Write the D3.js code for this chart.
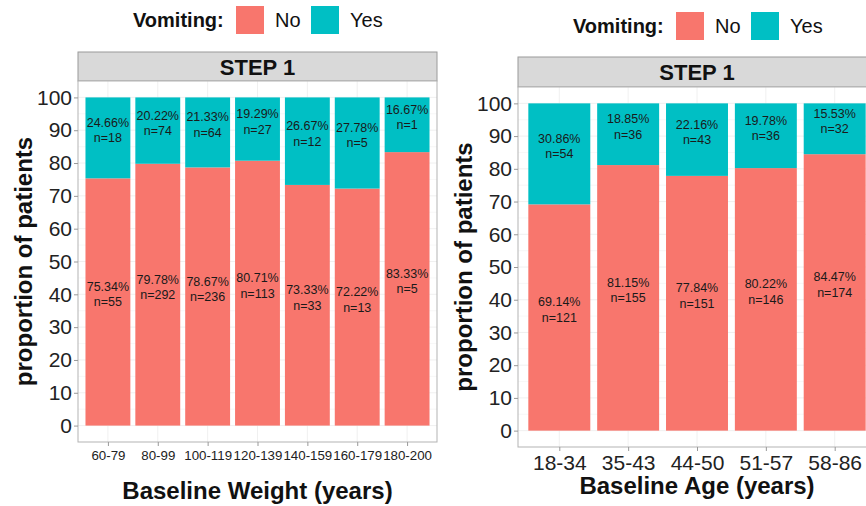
<!DOCTYPE html>
<html>
<head>
<meta charset="utf-8">
<script src="https://cdn.jsdelivr.net/npm/d3@7"></script>
<style>
  html, body { margin: 0; padding: 0; background: #fff; }
  svg { display: block; font-family: "Liberation Sans", Arial, sans-serif; }
</style>
</head>
<body>
<svg id="chart" width="866" height="506"></svg>
<script>
// Vomiting proportions by baseline weight band (STEP 1)
const weightCats   = ["60-79", "80-99", "100-119", "120-139", "140-159", "160-179", "180-200"];
const weightNoPct  = [75.34, 79.78, 78.67, 80.71, 73.33, 72.22, 83.33];
const weightYesPct = [24.66, 20.22, 21.33, 19.29, 26.67, 27.78, 16.67];
const weightNoN    = [55, 292, 236, 113, 33, 13, 5];
const weightYesN   = [18, 74, 64, 27, 12, 5, 1];

// Vomiting proportions by baseline age band (STEP 1)
const ageCats   = ["18-34", "35-43", "44-50", "51-57", "58-86"];
const ageNoPct  = [69.14, 81.15, 77.84, 80.22, 84.47];
const ageYesPct = [30.86, 18.85, 22.16, 19.78, 15.53];
const ageNoN    = [121, 155, 151, 146, 174];
const ageYesN   = [54, 36, 43, 36, 32];

const yTicks = [0, 10, 20, 30, 40, 50, 60, 70, 80, 90, 100];
const groups = ["No", "Yes"];
const groupColors = ["#F8766D", "#00BFC4"];

const svg = d3.select("#chart");

function drawPanel(opt) {
  const g = svg.append("g");
  const color = d3.scaleOrdinal().domain(groups).range(groupColors);

  // discrete x: bar spacing = step, bar width = 0.9*step, 0.6*step expansion each side
  const n = opt.cats.length;
  const step = (opt.right - opt.left) / (n - 1 + 1.2);
  const center = d3.scalePoint().domain(opt.cats)
    .range([opt.left + 0.6 * step, opt.right - 0.6 * step]);
  const bw = 0.9 * step;

  const y = d3.scaleLinear().domain([-5, 105]).range([opt.bottom, opt.top]);

  // legend
  const lg = g.append("g");
  lg.append("text").attr("x", opt.legX).attr("y", opt.legY + 7)
    .attr("font-size", 20).attr("font-weight", "bold").attr("fill", "#111")
    .text("Vomiting:");
  groups.forEach((k, i) => {
    const sx = opt.legX + 103 + i * 75;
    lg.append("rect").attr("x", sx).attr("y", opt.legY - 14)
      .attr("width", 28).attr("height", 28).attr("fill", color(k));
    lg.append("text").attr("x", sx + 39).attr("y", opt.legY + 7)
      .attr("font-size", 20).attr("fill", "#111").text(k);
  });

  // strip
  g.append("rect").attr("x", opt.left).attr("y", opt.stripTop)
    .attr("width", opt.right - opt.left).attr("height", opt.top - opt.stripTop)
    .attr("fill", "#d9d9d9").attr("stroke", "#9a9a9a").attr("stroke-width", 1);
  g.append("text").attr("x", (opt.left + opt.right) / 2)
    .attr("y", (opt.stripTop + opt.top) / 2 + 8)
    .attr("text-anchor", "middle").attr("font-size", 22).attr("font-weight", "bold")
    .attr("fill", "#111").text("STEP 1");

  // panel background and grid
  g.append("rect").attr("x", opt.left).attr("y", opt.top)
    .attr("width", opt.right - opt.left).attr("height", opt.bottom - opt.top)
    .attr("fill", "#fff");
  const grid = g.append("g").attr("stroke", "#ececec");
  d3.range(0, 101, 5).forEach(v => {
    grid.append("line").attr("x1", opt.left).attr("x2", opt.right)
      .attr("y1", y(v)).attr("y2", y(v))
      .attr("stroke-width", v % 10 === 0 ? 0.8 : 0.4);
  });
  opt.cats.forEach(c => {
    grid.append("line").attr("x1", center(c)).attr("x2", center(c))
      .attr("y1", opt.top).attr("y2", opt.bottom).attr("stroke-width", 0.8);
  });

  // stacked bars with percentage / count labels
  opt.cats.forEach((c, i) => {
    const no = opt.noPct[i], yes = opt.yesPct[i];
    const cx = center(c);
    g.append("rect").attr("x", cx - bw / 2).attr("width", bw)
      .attr("y", y(no)).attr("height", y(0) - y(no)).attr("fill", color("No"));
    g.append("rect").attr("x", cx - bw / 2).attr("width", bw)
      .attr("y", y(no + yes)).attr("height", y(no) - y(no + yes)).attr("fill", color("Yes"));

    const segs = [
      { mid: no / 2, pct: no, n: opt.noN[i] },
      { mid: no + yes / 2, pct: yes, n: opt.yesN[i] }
    ];
    segs.forEach(s => {
      const cy = y(s.mid);
      const t = g.append("text").attr("text-anchor", "middle")
        .attr("font-size", 12.5).attr("fill", "#1a1a1a");
      t.append("tspan").attr("x", cx).attr("y", cy - 11).text(s.pct.toFixed(2) + "%");
      t.append("tspan").attr("x", cx).attr("y", cy + 4.5).text("n=" + s.n);
    });
  });

  // panel border
  g.append("rect").attr("x", opt.left).attr("y", opt.top)
    .attr("width", opt.right - opt.left).attr("height", opt.bottom - opt.top)
    .attr("fill", "none").attr("stroke", "#b3b3b3").attr("stroke-width", 1);

  // y axis
  const yAxis = d3.axisLeft(y).tickValues(yTicks).tickSize(4).tickPadding(2);
  const ya = g.append("g").attr("transform", `translate(${opt.left},0)`).call(yAxis);
  ya.select(".domain").remove();
  ya.selectAll(".tick line").attr("stroke", "#999");
  ya.selectAll(".tick text").attr("font-size", 21).attr("fill", "#222")
    .attr("font-family", "Liberation Sans, Arial, sans-serif");

  // x axis
  const xAxis = d3.axisBottom(center).tickSize(4).tickPadding(opt.xTickPad);
  const xa = g.append("g").attr("transform", `translate(0,${opt.bottom})`).call(xAxis);
  xa.select(".domain").remove();
  xa.selectAll(".tick line").attr("stroke", "#999");
  xa.selectAll(".tick text").attr("font-size", opt.xTickSize).attr("fill", "#222")
    .attr("font-family", "Liberation Sans, Arial, sans-serif");

  // axis titles
  g.append("text").attr("x", (opt.left + opt.right) / 2).attr("y", opt.xTitleY)
    .attr("text-anchor", "middle").attr("font-size", 24).attr("font-weight", "bold")
    .attr("fill", "#111").text(opt.xTitle);
  g.append("text")
    .attr("transform", `translate(${opt.yTitleX},${(opt.top + opt.bottom) / 2}) rotate(-90)`)
    .attr("text-anchor", "middle").attr("font-size", 24).attr("font-weight", "bold")
    .attr("fill", "#111").text("proportion of patients");
}

drawPanel({
  cats: weightCats, noPct: weightNoPct, yesPct: weightYesPct, noN: weightNoN, yesN: weightYesN,
  left: 78, right: 437, top: 81, bottom: 442, stripTop: 52,
  legX: 133, legY: 20,
  xTickSize: 13.3, xTickPad: 5, xTitleY: 499, xTitle: "Baseline Weight (years)",
  yTitleX: 32
});

drawPanel({
  cats: ageCats, noPct: ageNoPct, yesPct: ageYesPct, noN: ageNoN, yesN: ageYesN,
  left: 518, right: 876, top: 87, bottom: 447, stripTop: 57,
  legX: 573, legY: 26,
  xTickSize: 21, xTickPad: 4, xTitleY: 494, xTitle: "Baseline Age (years)",
  yTitleX: 472
});
</script>
</body>
</html>
